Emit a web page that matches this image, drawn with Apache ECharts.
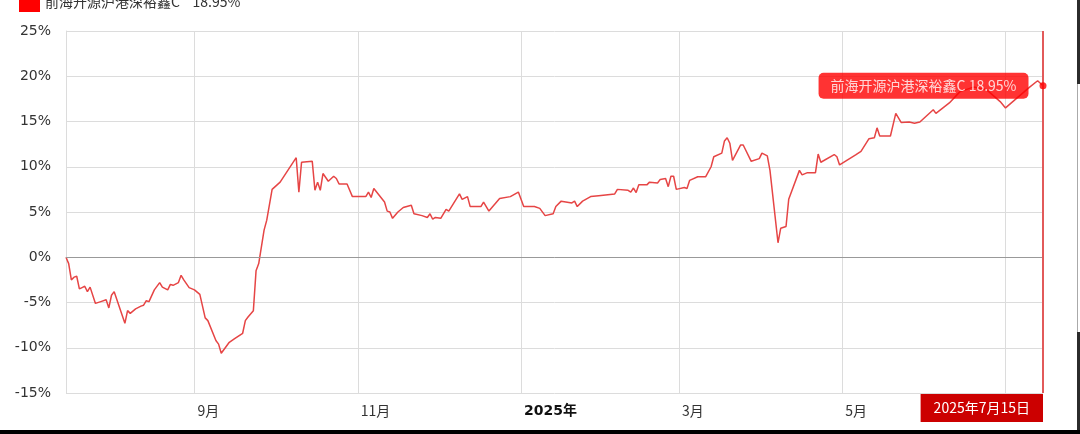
<!DOCTYPE html>
<html>
<head>
<meta charset="utf-8">
<script src="https://cdn.jsdelivr.net/npm/echarts@6/dist/echarts.min.js"></script>
<style>
html,body{margin:0;padding:0;background:#fff;overflow:hidden;}
body{position:relative;width:1080px;height:434px;}
#c{width:1080px;height:434px;}
.d{position:absolute;}
</style>
</head>
<body>
<div id="c"></div>
<div class="d" style="left:1077px;top:0;width:3px;height:84px;background:#2b2b2b"></div>
<div class="d" style="left:1077px;top:84px;width:1px;height:248px;background:#aaa"></div>
<div class="d" style="left:1077px;top:332px;width:3px;height:102px;background:#2b2b2b"></div>
<div class="d" style="left:0;top:430px;width:1080px;height:4px;background:#000"></div>
<script>
const seriesName = '前海开源沪港深裕鑫C';

const dates = [
'2024-07-15','2024-07-16','2024-07-17','2024-07-18','2024-07-19','2024-07-20','2024-07-21','2024-07-22','2024-07-23','2024-07-24',
'2024-07-26','2024-07-28','2024-07-30','2024-07-31','2024-08-01','2024-08-02','2024-08-06','2024-08-07','2024-08-08','2024-08-10',
'2024-08-12','2024-08-13','2024-08-14','2024-08-15','2024-08-17','2024-08-19','2024-08-20','2024-08-22','2024-08-23','2024-08-24',
'2024-08-26','2024-08-27','2024-08-28','2024-08-30','2024-09-01','2024-09-03','2024-09-05','2024-09-06','2024-09-09','2024-09-10',
'2024-09-11','2024-09-14','2024-09-16','2024-09-19','2024-09-20','2024-09-21','2024-09-23','2024-09-24','2024-09-25','2024-09-27',
'2024-09-28','2024-09-30','2024-10-03','2024-10-09','2024-10-10','2024-10-11','2024-10-15','2024-10-16','2024-10-17','2024-10-18',
'2024-10-19','2024-10-21','2024-10-23','2024-10-24','2024-10-25','2024-10-28','2024-10-30','2024-11-04','2024-11-05','2024-11-06',
'2024-11-07','2024-11-09','2024-11-11','2024-11-12','2024-11-13','2024-11-14','2024-11-16','2024-11-18','2024-11-21','2024-11-22',
'2024-11-25','2024-11-27','2024-11-28','2024-11-29','2024-11-30','2024-12-02','2024-12-04','2024-12-05','2024-12-09','2024-12-10',
'2024-12-12','2024-12-13','2024-12-17','2024-12-18','2024-12-20','2024-12-24','2024-12-28','2024-12-31','2025-01-02','2025-01-06',
'2025-01-08','2025-01-10','2025-01-13','2025-01-14','2025-01-16','2025-01-20','2025-01-21','2025-01-22','2025-01-24','2025-01-27',
'2025-01-30','2025-02-05','2025-02-06','2025-02-10','2025-02-11','2025-02-12','2025-02-13','2025-02-14','2025-02-17','2025-02-18',
'2025-02-21','2025-02-22','2025-02-24','2025-02-25','2025-02-26','2025-02-27','2025-02-28','2025-03-03','2025-03-04','2025-03-05',
'2025-03-08','2025-03-11','2025-03-13','2025-03-14','2025-03-17','2025-03-18','2025-03-19','2025-03-20','2025-03-21','2025-03-24',
'2025-03-25','2025-03-28','2025-03-31','2025-04-01','2025-04-03','2025-04-04','2025-04-07','2025-04-08','2025-04-10','2025-04-11',
'2025-04-15','2025-04-16','2025-04-18','2025-04-21','2025-04-22','2025-04-23','2025-04-28','2025-04-29','2025-04-30','2025-05-06',
'2025-05-08','2025-05-11','2025-05-13','2025-05-14','2025-05-15','2025-05-19','2025-05-21','2025-05-23','2025-05-26','2025-05-28',
'2025-05-30','2025-06-04','2025-06-05','2025-06-10','2025-06-14','2025-06-19','2025-06-24','2025-06-29','2025-07-01','2025-07-10',
'2025-07-13','2025-07-15'
];

const values = [
0.00,-0.70,-2.50,-2.20,-2.10,-3.50,-3.35,-3.20,-3.80,-3.30,
-5.10,-4.90,-4.70,-5.60,-4.20,-3.80,-7.30,-5.90,-6.20,-5.70,
-5.40,-5.30,-4.80,-4.90,-3.60,-2.80,-3.30,-3.60,-3.00,-3.10,
-2.80,-2.00,-2.50,-3.35,-3.60,-4.10,-6.70,-7.00,-9.20,-9.60,
-10.60,-9.40,-9.00,-8.40,-7.00,-6.60,-5.90,-1.50,-0.70,3.00,
4.10,7.50,8.30,11.00,7.20,10.50,10.60,7.40,8.30,7.40,
9.25,8.40,8.95,8.70,8.10,8.10,6.70,6.70,7.20,6.60,
7.60,6.85,6.10,5.10,5.00,4.30,5.00,5.50,5.75,4.80,
4.60,4.40,4.80,4.20,4.40,4.30,5.30,5.10,7.00,6.40,
6.70,5.60,5.60,6.10,5.10,6.50,6.70,7.20,5.60,5.60,
5.40,4.60,4.80,5.60,6.20,6.00,6.20,5.60,6.20,6.70,
6.80,7.00,7.50,7.40,7.20,7.65,7.15,8.00,8.00,8.30,
8.20,8.60,8.70,7.80,8.95,8.95,7.50,7.70,7.60,8.50,
8.90,8.90,10.00,11.10,11.50,12.85,13.20,12.60,10.70,12.40,
12.40,10.60,10.90,11.50,11.20,9.60,1.60,3.20,3.40,6.40,
9.60,9.10,9.35,9.35,11.40,10.50,11.35,11.10,10.20,11.30,
11.70,13.10,13.20,14.30,13.40,13.40,15.90,14.90,14.95,14.80,
14.95,16.30,15.90,17.05,18.30,18.80,18.50,17.20,16.50,18.80,
19.50,18.95
];

const xTickDates = ['2024-09-01','2024-11-01','2025-01-01','2025-03-01','2025-05-01','2025-07-01'];
const xTickLabels = ['9月','11月','2025年','3月','5月','7月'];
const yMin = -15, yMax = 25, yStep = 5;

const lastDate = dates[dates.length - 1];
const lastVal = values[values.length - 1];
const FONT = '"Noto Sans CJK SC", "Noto Sans", sans-serif';
const NUMFONT = '"DejaVu Sans", "Noto Sans CJK SC", sans-serif';

function pad(n){return n < 10 ? '0' + n : '' + n;}
function keyOf(ts){const d = new Date(ts); return d.getFullYear() + '-' + pad(d.getMonth()+1) + '-' + pad(d.getDate());}

const chart = echarts.init(document.getElementById('c'), null, {renderer:'canvas'});
const lineData = dates.map((d, i) => [d, values[i]]);

chart.setOption({
  animation: false,
  textStyle: {fontFamily: FONT},
  legend: {
    left: 14, top: -14,
    itemWidth: 21, itemHeight: 21, itemGap: 10,
    selectedMode: false,
    data: [{name: seriesName, icon: 'rect', itemStyle: {color: '#ff0000'}}],
    formatter: name => name + '    ' + lastVal.toFixed(2) + '%',
    textStyle: {fontSize: 14, color: '#333', fontFamily: FONT}
  },
  grid: {left: 66, right: 37, top: 31, bottom: 41, containLabel: false},
  xAxis: {
    type: 'time',
    min: dates[0], max: lastDate,
    splitNumber: 6,
    axisLine: {show: false, onZero: false},
    axisTick: {show: false},
    splitLine: {show: true, lineStyle: {color: '#dcdcdc', width: 1}},
    axisLabel: {
      align: 'left', margin: 11, padding: [0,0,0,3],
      fontSize: 14, color: '#333', fontFamily: FONT,
      showMinLabel: false, showMaxLabel: false,
      hideOverlap: false,
      formatter: function (v) {
        const i = xTickDates.indexOf(keyOf(v));
        if (i < 0) return '';
        return xTickLabels[i].indexOf('年') >= 0 ? '{b|' + xTickLabels[i] + '}' : xTickLabels[i];
      },
      rich: {b: {fontWeight: 'bold', color: '#111', fontSize: 14, fontFamily: NUMFONT}}
    }
  },
  yAxis: {
    type: 'value', min: yMin, max: yMax, interval: yStep,
    axisLine: {show: true, lineStyle: {color: '#dcdcdc'}},
    axisTick: {show: false},
    splitLine: {show: true, lineStyle: {color: '#dcdcdc', width: 1}},
    axisLabel: {formatter: '{value}%', fontSize: 14, color: '#333', margin: 15, fontFamily: NUMFONT}
  },
  series: [
    {
      name: seriesName, type: 'line', data: lineData,
      showSymbol: false, symbol: 'none',
      lineStyle: {color: '#e64545', width: 1.5},
      itemStyle: {color: '#e64545'},
      z: 3,
      markLine: {
        silent: true, symbol: 'none', animation: false,
        label: {show: false},
        data: [
          {yAxis: 0, lineStyle: {color: '#999', width: 1, type: 'solid'}},
          {xAxis: lastDate, lineStyle: {color: '#e25a5a', width: 2, type: 'solid'}}
        ]
      }
    },
    {
      name: 'last', type: 'scatter', data: [[lastDate, lastVal]],
      symbolSize: 7, itemStyle: {color: '#ff0000'}, z: 5,
      label: {
        show: true, position: 'left', distance: 11,
        formatter: () => seriesName + ' ' + lastVal.toFixed(2) + '%',
        backgroundColor: '#ff0000', borderRadius: 5, padding: [6, 12, 6, 12],
        color: '#fff', fontSize: 14, fontFamily: FONT
      }
    }
  ]
});

const p = chart.convertToPixel({xAxisIndex: 0, yAxisIndex: 0}, [lastDate, yMin]);
const ld = lastDate.split('-');
const dateText = ld[0] + '年' + parseInt(ld[1], 10) + '月' + parseInt(ld[2], 10) + '日';
chart.setOption({
  graphic: [{
    type: 'text', z: 100, zlevel: 0,
    x: p[0], y: p[1] + 1,
    style: {
      text: dateText, fill: '#fff', font: '14px ' + FONT,
      align: 'right', verticalAlign: 'top',
      backgroundColor: '#cc0000', padding: [7, 13, 7, 13]
    }
  }]
});
</script>
</body>
</html>
